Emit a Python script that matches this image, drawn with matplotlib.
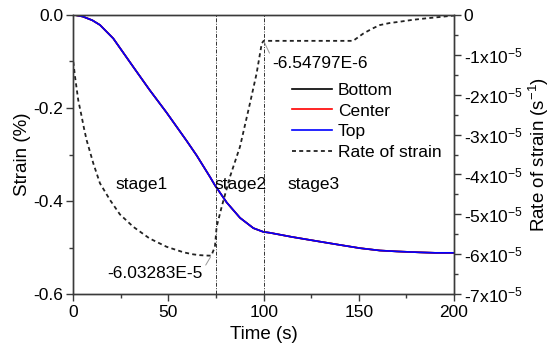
import matplotlib
matplotlib.use("Agg")
import matplotlib.pyplot as plt
from matplotlib.lines import Line2D
from matplotlib.ticker import MultipleLocator, FixedLocator

plt.rcParams['font.family'] = ['Liberation Sans', 'DejaVu Sans']
plt.rcParams['mathtext.default'] = 'regular'

# ---- data ----
t_strain = [0, 5, 10, 14, 21, 31.5, 40, 49, 59.6, 64.8, 71.8, 74.4, 80.6, 87.6, 94.6, 99.8, 103.3,
            115, 129.6, 140, 150.6, 161, 170, 182, 190, 200]
strain_top = [0, -0.004, -0.012, -0.022, -0.051, -0.112, -0.161, -0.210, -0.271, -0.302, -0.348,
              -0.366, -0.403, -0.436, -0.458, -0.466, -0.468,
              -0.477, -0.487, -0.494, -0.501, -0.506, -0.508, -0.510, -0.511, -0.511]
strain_center = strain_top
strain_bottom = strain_top

t_rate = [0, 0.9, 2.6, 4.4, 5.6, 7, 10.5, 14, 19.3, 24.5, 31.5, 40, 49, 58, 63, 66.5, 70, 72.5,
          74.4, 75.3, 78, 82.3, 87.6, 92.8, 96.3, 99, 100, 110, 120, 130, 140, 147,
          152.4, 157, 161, 166, 171.6, 178, 185.6, 192, 198, 200]
rate_e5 = [-1.18, -1.55, -2.14, -2.55, -2.84, -3.14, -3.72, -4.22, -4.64, -5.0, -5.31, -5.6, -5.81,
           -5.95, -6.0, -6.02, -6.03, -6.03283,
           -5.81, -5.31, -4.8, -4.06, -3.30, -2.22, -1.47, -0.72, -0.654797, -0.6548, -0.6548,
           -0.6548, -0.6548, -0.6548,
           -0.47, -0.35, -0.26, -0.21, -0.175, -0.13, -0.09, -0.06, -0.03, -0.02]
rate = [v * 1e-5 for v in rate_e5]

stage_lines = [75, 100]
stage_labels = ['stage1', 'stage2', 'stage3']
right_ticks = [0, -1e-5, -2e-5, -3e-5, -4e-5, -5e-5, -6e-5, -7e-5]
right_labels = ['0'] + [r'-%dx10$^{-5}$' % k for k in range(1, 8)]

# ---- figure ----
fig = plt.figure(figsize=(5.5, 3.56), dpi=100)
ax = fig.add_axes([73.3 / 550, 1 - 294.3 / 356, (454 - 73.3) / 550, (294.3 - 14.7) / 356])
ax2 = ax.twinx()

fs = 12.5
fl = 13.5
spine_c = '#3a3a3a'
dash = (0, (2.2, 1.8))

ax.plot(t_strain, strain_bottom, color='black', lw=1.2)
ax.plot(t_strain, strain_center, color='red', lw=1.2)
ax.plot(t_strain, strain_top, color='blue', lw=1.2)
for x in stage_lines:
    ax.axvline(x, color='#333333', lw=0.7, ls=(0, (4, 1.5, 1, 1.5)))

ax2.plot(t_rate, rate, color='#222222', lw=1.3, ls=dash)

ax.set_xlim(0, 200)
ax.set_ylim(-0.6, 0.0)
ax2.set_ylim(-7e-5, 0)

ax.xaxis.set_major_locator(MultipleLocator(50))
ax.xaxis.set_minor_locator(MultipleLocator(25))
ax.set_yticks([0.0, -0.2, -0.4, -0.6])
ax.set_yticklabels(['0.0', '-0.2', '-0.4', '-0.6'])
ax.yaxis.set_minor_locator(FixedLocator([-0.1, -0.3, -0.5]))
ax2.yaxis.set_major_locator(FixedLocator(right_ticks))
ax2.set_yticklabels(right_labels)
ax2.yaxis.set_minor_locator(FixedLocator([-0.5e-5 - k * 1e-5 for k in range(7)]))

for a in (ax, ax2):
    a.tick_params(which='both', direction='out', colors=spine_c, labelcolor='black', labelsize=fs)
    a.tick_params(which='major', length=5, width=1)
    a.tick_params(which='minor', length=3, width=1)
    for s in a.spines.values():
        s.set_color(spine_c)
        s.set_linewidth(1.0)
ax.tick_params(axis='x', pad=3)
ax.tick_params(axis='y', pad=2)
ax2.tick_params(axis='y', pad=2)

ax.set_xlabel('Time (s)', fontsize=fl, labelpad=4)
ax.set_ylabel('Strain (%)', fontsize=fl, labelpad=2)
ax2.set_ylabel('Rate of strain (s$^{-1}$)', fontsize=fl, labelpad=3)

# stage labels
ax.text(21.9, -0.365, stage_labels[0], fontsize=fs, va='center', ha='left')
ax.text(74.4, -0.365, stage_labels[1], fontsize=fs, va='center', ha='left')
ax.text(112.3, -0.365, stage_labels[2], fontsize=fs, va='center', ha='left')

# annotations
ax2.annotate('-6.54797E-6', xy=(100, -0.654797e-5), xytext=(104.5, -1.22e-5),
             fontsize=fs, va='center', ha='left',
             arrowprops=dict(arrowstyle='-', color='#999999', lw=0.7, shrinkA=0, shrinkB=1,
                             relpos=(0.0, 0.8)))
ax2.annotate('-6.03283E-5', xy=(72.5, -6.03283e-5), xytext=(18, -6.48e-5),
             fontsize=fs, va='center', ha='left',
             arrowprops=dict(arrowstyle='-', color='#999999', lw=0.7, shrinkA=0, shrinkB=1,
                             relpos=(1.0, 0.75)))

handles = [Line2D([], [], color='black', lw=1.2),
           Line2D([], [], color='red', lw=1.2),
           Line2D([], [], color='blue', lw=1.2),
           Line2D([], [], color='#222222', lw=1.3, ls=dash)]
labels = ['Bottom', 'Center', 'Top', 'Rate of strain']
leg = ax2.legend(handles, labels, loc='upper left', bbox_to_anchor=(292 / 550, 1 - 82.5 / 356),
                 bbox_transform=fig.transFigure, frameon=False, fontsize=fs,
                 handlelength=2.3, handletextpad=0.35, labelspacing=0.33, borderaxespad=0,
                 borderpad=0)

fig.savefig('out.png', dpi=100)
